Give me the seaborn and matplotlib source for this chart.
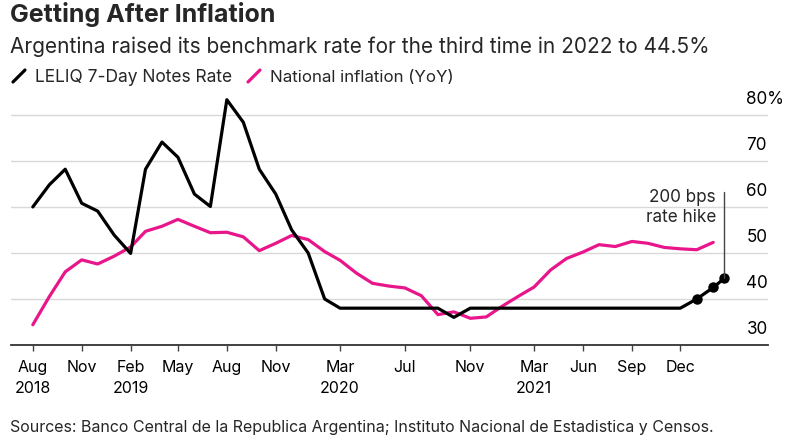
import pandas as pd
import numpy as np
import seaborn as sns
import matplotlib.pyplot as plt
import matplotlib.dates as mdates
from matplotlib.lines import Line2D
from matplotlib.transforms import ScaledTranslation

# monthly observations, Aug 2018 .. Feb 2022
months = pd.date_range("2018-08-01", "2022-02-01", freq="MS")

leliq = [60, 64.8, 68.2, 60.8, 59.1, 53.9, 49.9, 68.2, 74.1, 70.8, 62.8, 60.1,
         83.3, 78.4, 68.2, 62.8, 55, 50, 40, 38, 38, 38, 38, 38, 38, 38, 36,
         38, 38, 38, 38, 38, 38, 38, 38, 38, 38, 38, 38, 38, 38, 40, 42.5]
# latest hike after the last monthly print
last_date = pd.Timestamp("2022-02-22")
last_rate = 44.5

inflation = [34.4, 40.5, 45.9, 48.5, 47.6, 49.3, 51.3, 54.7, 55.8, 57.3, 55.8,
             54.4, 54.5, 53.5, 50.5, 52.1, 53.8, 52.9, 50.3, 48.4, 45.6, 43.4,
             42.8, 42.4, 40.7, 36.6, 37.2, 35.8, 36.1, 38.5, 40.7, 42.6, 46.3,
             48.8, 50.2, 51.8, 51.4, 52.5, 52.1, 51.2, 50.9, 50.7, 52.3]

tick_dates = ["2018-08-01", "2018-11-01", "2019-02-01", "2019-05-01",
              "2019-08-01", "2019-11-01", "2020-03-01", "2020-07-01",
              "2020-11-01", "2021-03-01", "2021-06-01", "2021-09-01",
              "2021-12-01"]
tick_labels = ["Aug\n2018", "Nov", "Feb\n2019", "May", "Aug", "Nov",
               "Mar\n2020", "Jul", "Nov", "Mar\n2021", "Jun", "Sep", "Dec"]
y_ticks = [30, 40, 50, 60, 70, 80]
y_labels = ["30", "40", "50", "60", "70", "80%"]

BLACK = "#000000"
PINK = "#e8168a"

sns.set_theme(style="white")
plt.rcParams["font.family"] = ["Inter", "DejaVu Sans"]

rate = pd.DataFrame({"date": list(months) + [last_date],
                     "value": leliq + [last_rate]})
infl = pd.DataFrame({"date": months, "value": inflation})

fig = plt.figure(figsize=(7.98, 4.44), dpi=100)
ax = fig.add_axes([0.0138, 0.223, 0.9486, 0.570])

sns.lineplot(data=infl, x="date", y="value", color=PINK, linewidth=2.3, ax=ax)
sns.lineplot(data=rate, x="date", y="value", color=BLACK, linewidth=2.3, ax=ax)
hikes = rate.tail(3)
ax.plot(hikes["date"], hikes["value"], "o", color=BLACK, markersize=6.5)

ax.set_xlim(pd.Timestamp("2018-06-21"), pd.Timestamp("2022-05-15"))
ax.set_ylim(30, 85)
ax.set_xlabel("")
ax.set_ylabel("")

ax.set_xticks(pd.to_datetime(tick_dates))
ax.set_xticklabels(tick_labels, fontsize=11.5, linespacing=1.55)
ax.tick_params(axis="x", bottom=True, length=4.5, width=1, color="#444444",
               pad=6, labelcolor="#000000")

ax.yaxis.tick_right()
ax.set_yticks(y_ticks)
ax.set_yticklabels(y_labels, fontsize=12.3)
ax.tick_params(axis="y", right=False, length=0, pad=-15.5, labelcolor="#000000")
for lab in ax.get_yticklabels():
    lab.set_horizontalalignment("left")
    lab.set_verticalalignment("baseline")
    lab.set_transform(lab.get_transform() +
                      ScaledTranslation(0, 8 / 72, fig.dpi_scale_trans))

ax.grid(axis="y", color="#d9d9d9", linewidth=1)
ax.grid(axis="x", visible=False)
for s in ["top", "right", "left"]:
    ax.spines[s].set_visible(False)
ax.spines["bottom"].set_color("#333333")
ax.spines["bottom"].set_linewidth(1.3)

# annotation for the latest hike
ax.plot([last_date, last_date], [last_rate, 63.3], color="#444444", linewidth=1)
ax.annotate("200 bps\nrate hike", xy=(last_date, 63.3), xytext=(-6, 2),
            textcoords="offset points", ha="right", va="top", fontsize=12.3,
            linespacing=1.2)

# header
fig.text(0.0125, 1 - 22 / 444, "Getting After Inflation", fontsize=18,
         fontweight="bold", va="baseline")
fig.text(0.0125, 1 - 53 / 444,
         "Argentina raised its benchmark rate for the third time in 2022 to 44.5%",
         fontsize=15, va="baseline")

# legend with slash icons
fig.add_artist(Line2D([13 / 798, 25 / 798], [1 - 82 / 444, 1 - 70 / 444],
                      color=BLACK, linewidth=2.3, transform=fig.transFigure))
fig.text(35 / 798, 1 - 82 / 444, "LELIQ 7-Day Notes Rate", fontsize=12.5,
         va="baseline")
fig.add_artist(Line2D([248 / 798, 260 / 798], [1 - 82 / 444, 1 - 70 / 444],
                      color=PINK, linewidth=2.3, transform=fig.transFigure))
fig.text(270 / 798, 1 - 82 / 444, "National inflation (YoY)", fontsize=12.2,
         va="baseline")

fig.text(0.0125, 1 - 432 / 444,
         "Sources: Banco Central de la Republica Argentina; Instituto Nacional de Estadistica y Censos.",
         fontsize=11.5, va="baseline")

fig.savefig("out.png", dpi=100)
